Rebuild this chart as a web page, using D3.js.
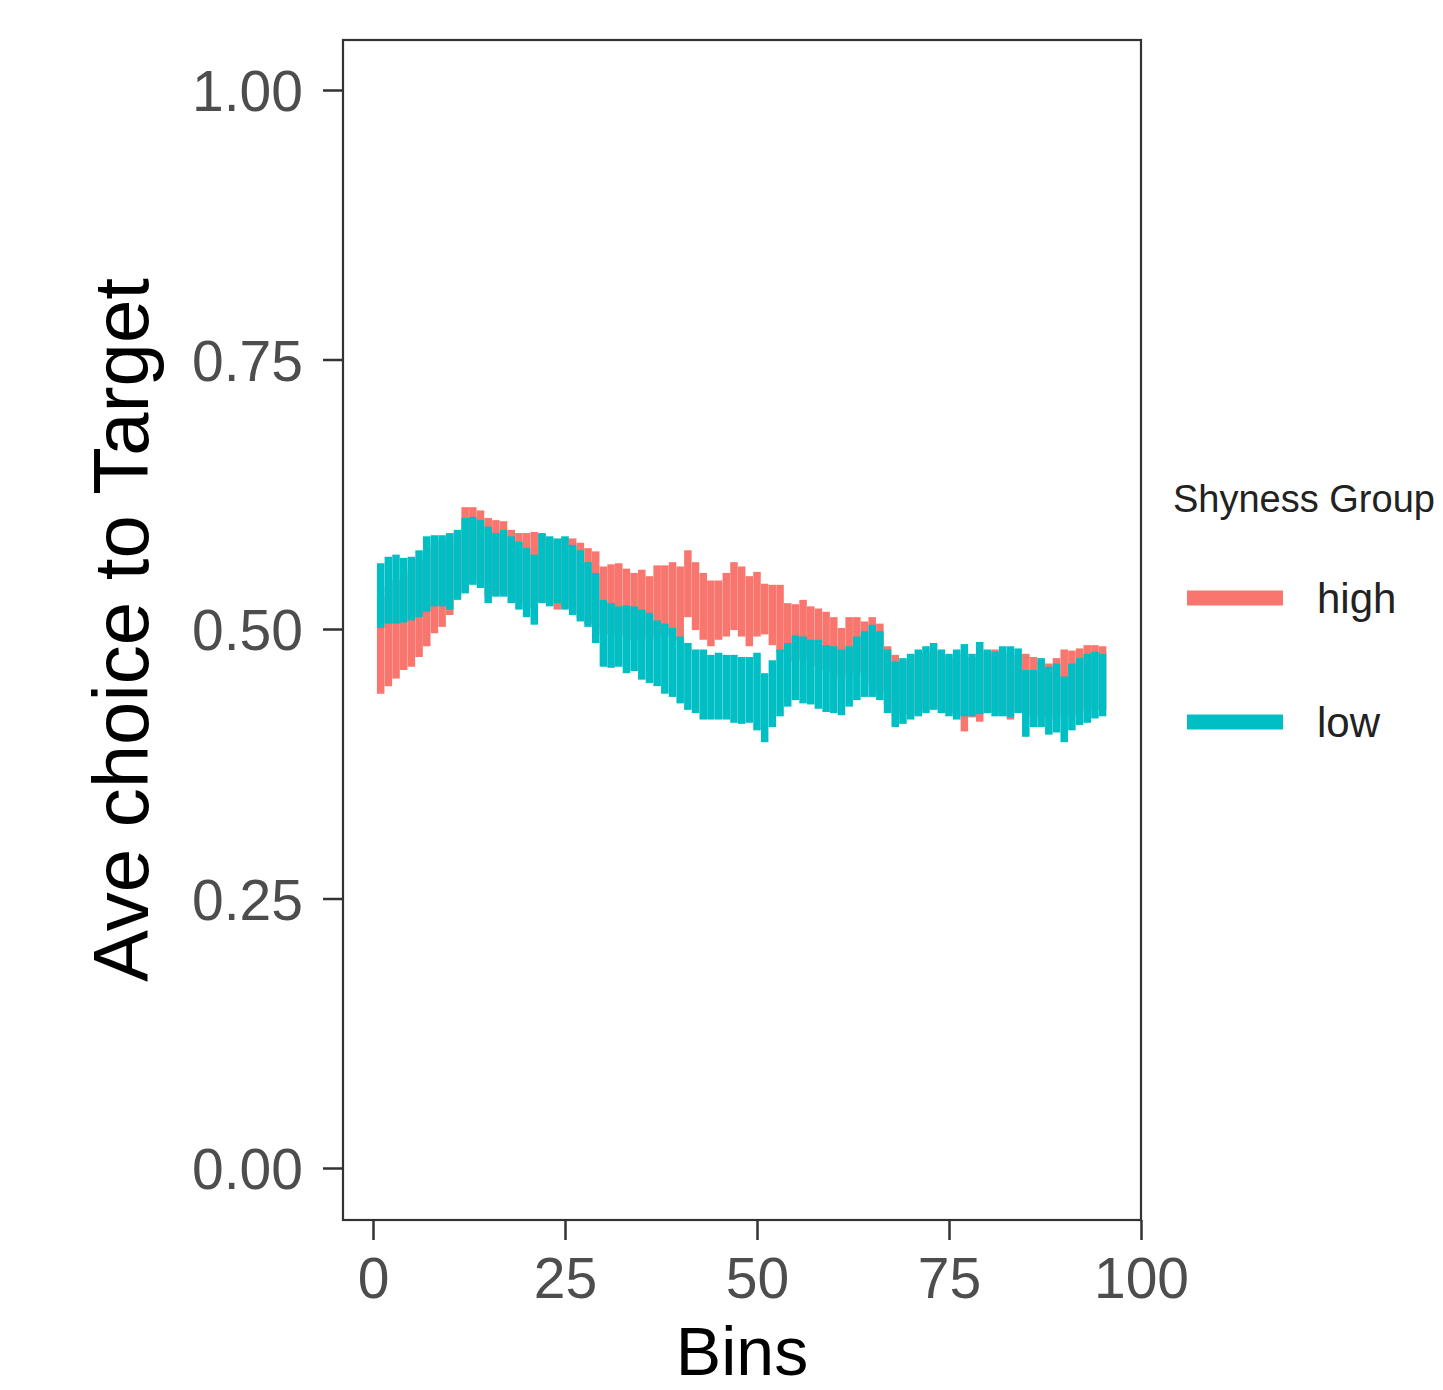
<!DOCTYPE html>
<html>
  <head>
    <meta charset="utf-8">
    <title>Ave choice to Target by Bins</title>
    <style>
      body {
        margin: 0;
        background-color: white;
      }
      svg text {
        font-family: "Liberation Sans", Arial, sans-serif;
      }
    </style>
  </head>
  <body>
    <div id="chart"></div>

    <script src="https://d3js.org/d3.v7.min.js"></script>
    <script>
      // bins 1..95, one error bar per bin and group
      var bins = d3.range(1, 96);

      var lowUpper = [0.561, 0.567, 0.569, 0.566, 0.567, 0.573, 0.586, 0.587, 0.587, 0.589,
        0.592, 0.603, 0.604, 0.601, 0.595, 0.589, 0.592, 0.586, 0.581, 0.575,
        0.569, 0.589, 0.586, 0.584, 0.586, 0.578, 0.573, 0.562, 0.552, 0.527,
        0.524, 0.521, 0.522, 0.521, 0.518, 0.515, 0.508, 0.505, 0.501, 0.493,
        0.487, 0.481, 0.481, 0.476, 0.478, 0.476, 0.476, 0.474, 0.474, 0.478,
        0.459, 0.471, 0.481, 0.487, 0.494, 0.493, 0.490, 0.490, 0.485, 0.484,
        0.481, 0.484, 0.493, 0.498, 0.504, 0.498, 0.481, 0.470, 0.473, 0.477,
        0.481, 0.484, 0.487, 0.481, 0.477, 0.481, 0.486, 0.477, 0.488, 0.481,
        0.479, 0.484, 0.484, 0.482, 0.462, 0.462, 0.473, 0.465, 0.468, 0.456,
        0.468, 0.473, 0.477, 0.479, 0.477];

      var lowLower = [0.501, 0.505, 0.505, 0.506, 0.508, 0.511, 0.516, 0.521, 0.521, 0.518,
        0.527, 0.533, 0.541, 0.538, 0.524, 0.530, 0.530, 0.524, 0.518, 0.511,
        0.504, 0.524, 0.521, 0.524, 0.518, 0.513, 0.507, 0.502, 0.487, 0.465,
        0.464, 0.465, 0.459, 0.461, 0.453, 0.450, 0.447, 0.440, 0.437, 0.431,
        0.425, 0.422, 0.416, 0.416, 0.416, 0.416, 0.413, 0.412, 0.413, 0.406,
        0.395, 0.409, 0.419, 0.428, 0.434, 0.431, 0.430, 0.426, 0.423, 0.422,
        0.420, 0.428, 0.434, 0.437, 0.437, 0.434, 0.422, 0.409, 0.412, 0.416,
        0.419, 0.422, 0.425, 0.422, 0.419, 0.416, 0.419, 0.419, 0.421, 0.422,
        0.419, 0.419, 0.418, 0.422, 0.400, 0.409, 0.409, 0.402, 0.404, 0.395,
        0.406, 0.411, 0.413, 0.417, 0.419];

      var highUpper = [0.530, 0.540, 0.545, 0.550, 0.555, 0.565, 0.575, 0.580, 0.583, 0.585,
        0.590, 0.613, 0.613, 0.610, 0.603, 0.601, 0.600, 0.592, 0.589, 0.589,
        0.590, 0.588, 0.585, 0.582, 0.585, 0.584, 0.580, 0.575, 0.572, 0.558,
        0.560, 0.561, 0.556, 0.552, 0.555, 0.549, 0.559, 0.559, 0.562, 0.558,
        0.573, 0.562, 0.552, 0.545, 0.545, 0.552, 0.562, 0.558, 0.549, 0.553,
        0.542, 0.541, 0.541, 0.524, 0.523, 0.527, 0.521, 0.519, 0.516, 0.511,
        0.501, 0.511, 0.511, 0.507, 0.511, 0.505, 0.484, 0.476, 0.470, 0.472,
        0.476, 0.478, 0.480, 0.478, 0.474, 0.476, 0.478, 0.474, 0.480, 0.476,
        0.481, 0.478, 0.477, 0.476, 0.477, 0.474, 0.470, 0.468, 0.473, 0.481,
        0.480, 0.482, 0.485, 0.485, 0.484];

      var highLower = [0.440, 0.447, 0.454, 0.462, 0.465, 0.474, 0.484, 0.496, 0.502, 0.513,
        0.530, 0.535, 0.545, 0.540, 0.530, 0.532, 0.532, 0.530, 0.525, 0.520,
        0.520, 0.525, 0.522, 0.518, 0.520, 0.515, 0.510, 0.505, 0.500, 0.495,
        0.495, 0.495, 0.492, 0.490, 0.492, 0.488, 0.494, 0.494, 0.495, 0.490,
        0.511, 0.499, 0.490, 0.484, 0.490, 0.493, 0.499, 0.493, 0.484, 0.493,
        0.495, 0.485, 0.478, 0.470, 0.470, 0.472, 0.466, 0.465, 0.462, 0.458,
        0.452, 0.458, 0.460, 0.458, 0.448, 0.442, 0.430, 0.420, 0.420, 0.420,
        0.422, 0.425, 0.428, 0.425, 0.422, 0.420, 0.405, 0.418, 0.414, 0.424,
        0.422, 0.420, 0.416, 0.424, 0.420, 0.420, 0.418, 0.418, 0.415, 0.420,
        0.420, 0.422, 0.425, 0.425, 0.425];

      var groups = ["high", "low"];
      var colors = ["#F8766D", "#00BFC4"];
      var xTicks = [0, 25, 50, 75, 100];
      var yTicks = [0, 0.25, 0.5, 0.75, 1];

      var width = 1443;
      var height = 1390;
      var panel = {left: 343, right: 1141, top: 40, bottom: 1220};

      var svg = d3.select("#chart").append("svg")
        .attr("width", width)
        .attr("height", height);

      var x = d3.scaleLinear().domain([0, 100]).range([373, 1141]);
      var y = d3.scaleLinear().domain([0, 1]).range([1168, 90]);
      var color = d3.scaleOrdinal().domain(groups).range(colors);

      var series = [
        {group: "high", lo: highLower, hi: highUpper},
        {group: "low", lo: lowLower, hi: lowUpper}
      ];

      series.forEach(function(s) {
        svg.append("g").selectAll("line")
          .data(bins)
          .enter()
          .append("line")
          .attr("x1", function(d) { return x(d) })
          .attr("x2", function(d) { return x(d) })
          .attr("y1", function(d, i) { return y(s.lo[i]) })
          .attr("y2", function(d, i) { return y(s.hi[i]) })
          .attr("stroke", color(s.group))
          .attr("stroke-width", 7.5);
      });

      // panel border
      svg.append("rect")
        .attr("x", panel.left)
        .attr("y", panel.top)
        .attr("width", panel.right - panel.left)
        .attr("height", panel.bottom - panel.top)
        .attr("fill", "none")
        .attr("stroke", "#333333")
        .attr("stroke-width", 2.2);

      var yAxis = svg.append("g")
        .attr("transform", "translate(" + panel.left + ",0)")
        .call(d3.axisLeft(y).tickValues(yTicks).tickFormat(d3.format(".2f")).tickSize(20).tickPadding(20));

      var xAxis = svg.append("g")
        .attr("transform", "translate(0," + panel.bottom + ")")
        .call(d3.axisBottom(x).tickValues(xTicks).tickFormat(d3.format("d")).tickSize(20).tickPadding(18));

      [xAxis, yAxis].forEach(function(a) {
        a.select(".domain").remove();
        a.selectAll(".tick line").attr("stroke", "#333333").attr("stroke-width", 2.5);
        a.selectAll(".tick text")
          .attr("fill", "#4d4d4d")
          .style("font-size", "57px");
      });
      yAxis.selectAll(".tick text").attr("dy", "0.36em");

      svg.append("text")
        .attr("x", (panel.left + panel.right) / 2)
        .attr("y", 1375)
        .attr("text-anchor", "middle")
        .attr("fill", "black")
        .style("font-size", "68px")
        .text("Bins");

      svg.append("text")
        .attr("transform", "translate(148," + (panel.top + panel.bottom) / 2 + ") rotate(-90)")
        .attr("text-anchor", "middle")
        .attr("fill", "black")
        .style("font-size", "78px")
        .text("Ave choice to Target");

      // legend
      var legend = svg.append("g");
      legend.append("text")
        .attr("x", 1173)
        .attr("y", 512)
        .attr("fill", "#222222")
        .style("font-size", "38px")
        .text("Shyness Group");

      var keys = legend.selectAll("g.key")
        .data(groups)
        .enter()
        .append("g")
        .attr("class", "key")
        .attr("transform", function(d, i) { return "translate(0," + (598 + i * 124) + ")" });

      keys.append("line")
        .attr("x1", 1187)
        .attr("x2", 1283)
        .attr("stroke", function(d) { return color(d) })
        .attr("stroke-width", 15);

      keys.append("text")
        .attr("x", 1317)
        .attr("dy", "0.36em")
        .attr("fill", "#222222")
        .style("font-size", "42px")
        .text(function(d) { return d });
    </script>
  </body>
</html>
